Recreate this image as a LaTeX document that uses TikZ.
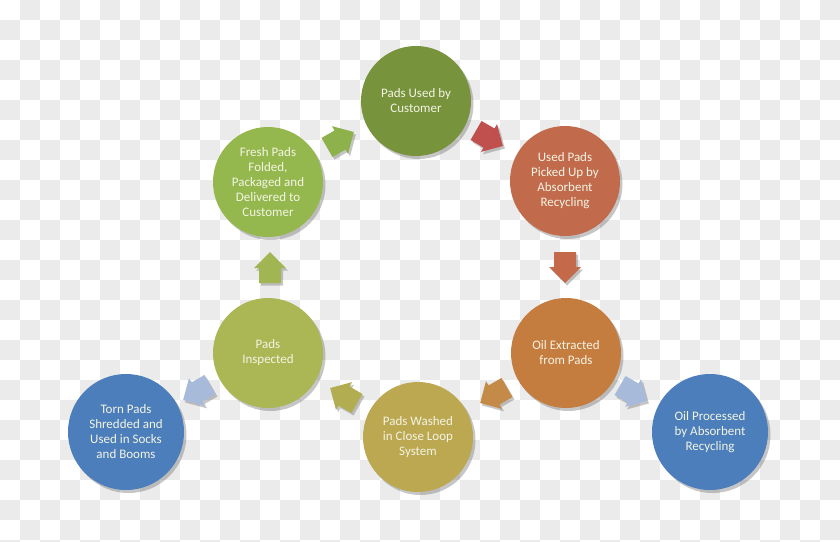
\documentclass[tikz,border=0pt]{standalone}
\usepackage{fontspec}
\setmainfont{Carlito}
\usetikzlibrary{shadows}
\definecolor{chk}{HTML}{EBEBEB}
\definecolor{cA}{HTML}{77933C}
\definecolor{cB}{HTML}{C26B4C}
\definecolor{cC}{HTML}{C57C3F}
\definecolor{cD}{HTML}{BBA850}
\definecolor{cE}{HTML}{ABB654}
\definecolor{cF}{HTML}{95B84E}
\definecolor{cBlue}{HTML}{4B7EBB}
\definecolor{aA}{HTML}{8DB24B}
\definecolor{aB}{HTML}{C0504D}
\definecolor{aC}{HTML}{C46A4A}
\definecolor{aD}{HTML}{C48A48}
\definecolor{aE}{HTML}{B2AD50}
\definecolor{aF}{HTML}{A1B552}
\definecolor{aBlue}{HTML}{A7BADA}
\definecolor{txt}{HTML}{F4F4E4}
\newcommand{\blockarr}[5]{%
  \begin{scope}[shift={(#1,#2)},rotate=#3]
    \fill[#4,drop shadow={shadow xshift=2pt,shadow yshift=-2.5pt,opacity=0.45}]
      (-15,-11) -- (0,-11) -- (0,-16) -- (16,0) -- (0,16) -- (0,11) -- (-15,11) -- cycle;
    \coordinate (#5) at (0,0);
  \end{scope}}
\begin{document}
\begin{tikzpicture}[x=1pt,y=-1pt,
  stage/.style={circle,minimum size=110pt,inner sep=0pt,text=txt,align=center,
    font=\fontsize{13}{15}\selectfont,
    drop shadow={shadow xshift=2.5pt,shadow yshift=-3pt,opacity=0.45}},
  outer/.style={stage,minimum size=116pt,fill=cBlue}]
\useasboundingbox (0,0) rectangle (840,541);
\begin{scope}
\clip (0,0) rectangle (840,541);
\foreach \i in {0,...,41}{
  \foreach \j in {0,...,27}{
    \pgfmathtruncatemacro{\odd}{mod(\i+\j,2)}
    \ifnum\odd=1
      \fill[chk] (\i*20,\j*20) rectangle ++(20,20);
    \fi
  }}
\end{scope}
\node[stage,fill=cA] (n1) at (416,101) {Pads Used by\\Customer};
\node[stage,fill=cB] (n2) at (565,181) {Used Pads\\Picked Up by\\Absorbent\\Recycling};
\node[stage,fill=cC] (n3) at (566,353) {Oil Extracted\\from Pads};
\node[stage,fill=cD] (n4) at (418,437) {Pads Washed\\in Close Loop\\System};
\node[stage,fill=cE] (n5) at (268,353) {Pads\\Inspected};
\node[stage,fill=cF] (n6) at (268,182) {Fresh Pads\\Folded,\\Packaged and\\Delivered to\\Customer};
\node[outer] (n7) at (126,432) {Torn Pads\\Shredded and\\Used in Socks\\and Booms};
\node[outer] (n8) at (710,432) {Oil Processed\\by Absorbent\\Recycling};
\blockarr{340}{140}{30}{aA}{a61}
\blockarr{489}{138}{-30}{aB}{a12}
\blockarr{565}{267}{-90}{aC}{a23}
\blockarr{494}{395}{210}{aD}{a34}
\blockarr{344}{396}{150}{aE}{a45}
\blockarr{270}{268}{90}{aF}{a56}
\blockarr{633}{393}{-30}{aBlue}{a38}
\blockarr{197}{392}{210}{aBlue}{a57}
\end{tikzpicture}
\end{document}
